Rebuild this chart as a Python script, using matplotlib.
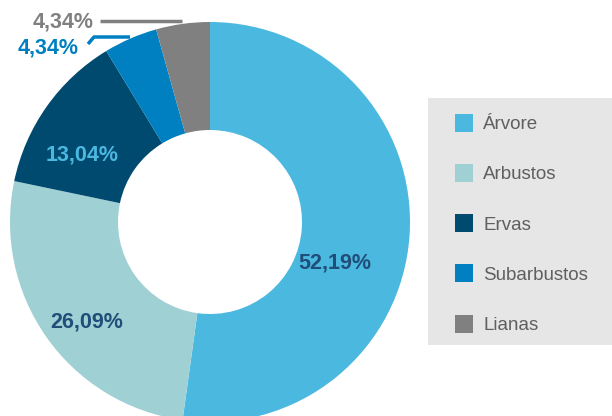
import matplotlib.pyplot as plt
from matplotlib.patches import Rectangle

categories = ["Árvore", "Arbustos", "Ervas", "Subarbustos", "Lianas"]
values = [52.19, 26.09, 13.04, 4.34, 4.34]
labels = ["52,19%", "26,09%", "13,04%", "4,34%", "4,34%"]
colors = ["#4bb8e0", "#9fd0d4", "#004a70", "#0080c0", "#808080"]

plt.rcParams['font.family'] = ['Liberation Sans', 'DejaVu Sans']

fig = plt.figure(figsize=(6.12, 4.16), dpi=100)
ax = fig.add_axes([10/612, -6/416, 400/612, 400/416])

wedges, _ = ax.pie(values, colors=colors, startangle=90, counterclock=False,
                   radius=1, wedgeprops=dict(width=0.54, edgecolor='none'))
ax.set_xlim(-1, 1)
ax.set_ylim(-1, 1)
ax.set_aspect('equal')
ax.axis('off')

fs = 15.5
# labels inside the big wedges
ax.text(0.625, -0.205, labels[0], color="#1f4e79", fontsize=fs, fontweight='bold',
        ha='center', va='center')
ax.text(-0.615, -0.50, labels[1], color="#1f4e79", fontsize=fs, fontweight='bold',
        ha='center', va='center')
ax.text(-0.64, 0.335, labels[2], color="#4bb8e0", fontsize=fs, fontweight='bold',
        ha='center', va='center')

# small wedges with leader lines
ax.text(-0.81, 0.87, labels[3], color="#0080c0", fontsize=fs, fontweight='bold',
        ha='center', va='center')
ax.plot([-0.61, -0.58, -0.40], [0.89, 0.925, 0.925], color="#0080c0", lw=2.5,
        clip_on=False, solid_capstyle='butt')
ax.text(-0.735, 1.0, labels[4], color="#808080", fontsize=fs, fontweight='bold',
        ha='center', va='center', clip_on=False)
ax.plot([-0.55, -0.14], [1.005, 1.005], color="#808080", lw=2.5,
        clip_on=False, solid_capstyle='butt')

# legend background
fig.patches.append(Rectangle((428/612, 1 - 345/416), 190/612, 247/416,
                             transform=fig.transFigure, facecolor="#e6e6e6",
                             edgecolor='none', zorder=0))
leg = fig.legend(wedges, categories, loc='upper left',
                 bbox_to_anchor=(455/612, 1 - 113.5/416),
                 frameon=False, fontsize=13.5, labelcolor="#5f5f5f",
                 handlelength=0.97, handleheight=1.1, handletextpad=0.53,
                 labelspacing=1.65, borderpad=0, borderaxespad=0)
for t in leg.get_texts():
    t.set_color("#5f5f5f")

fig.savefig("out.png", dpi=100)
